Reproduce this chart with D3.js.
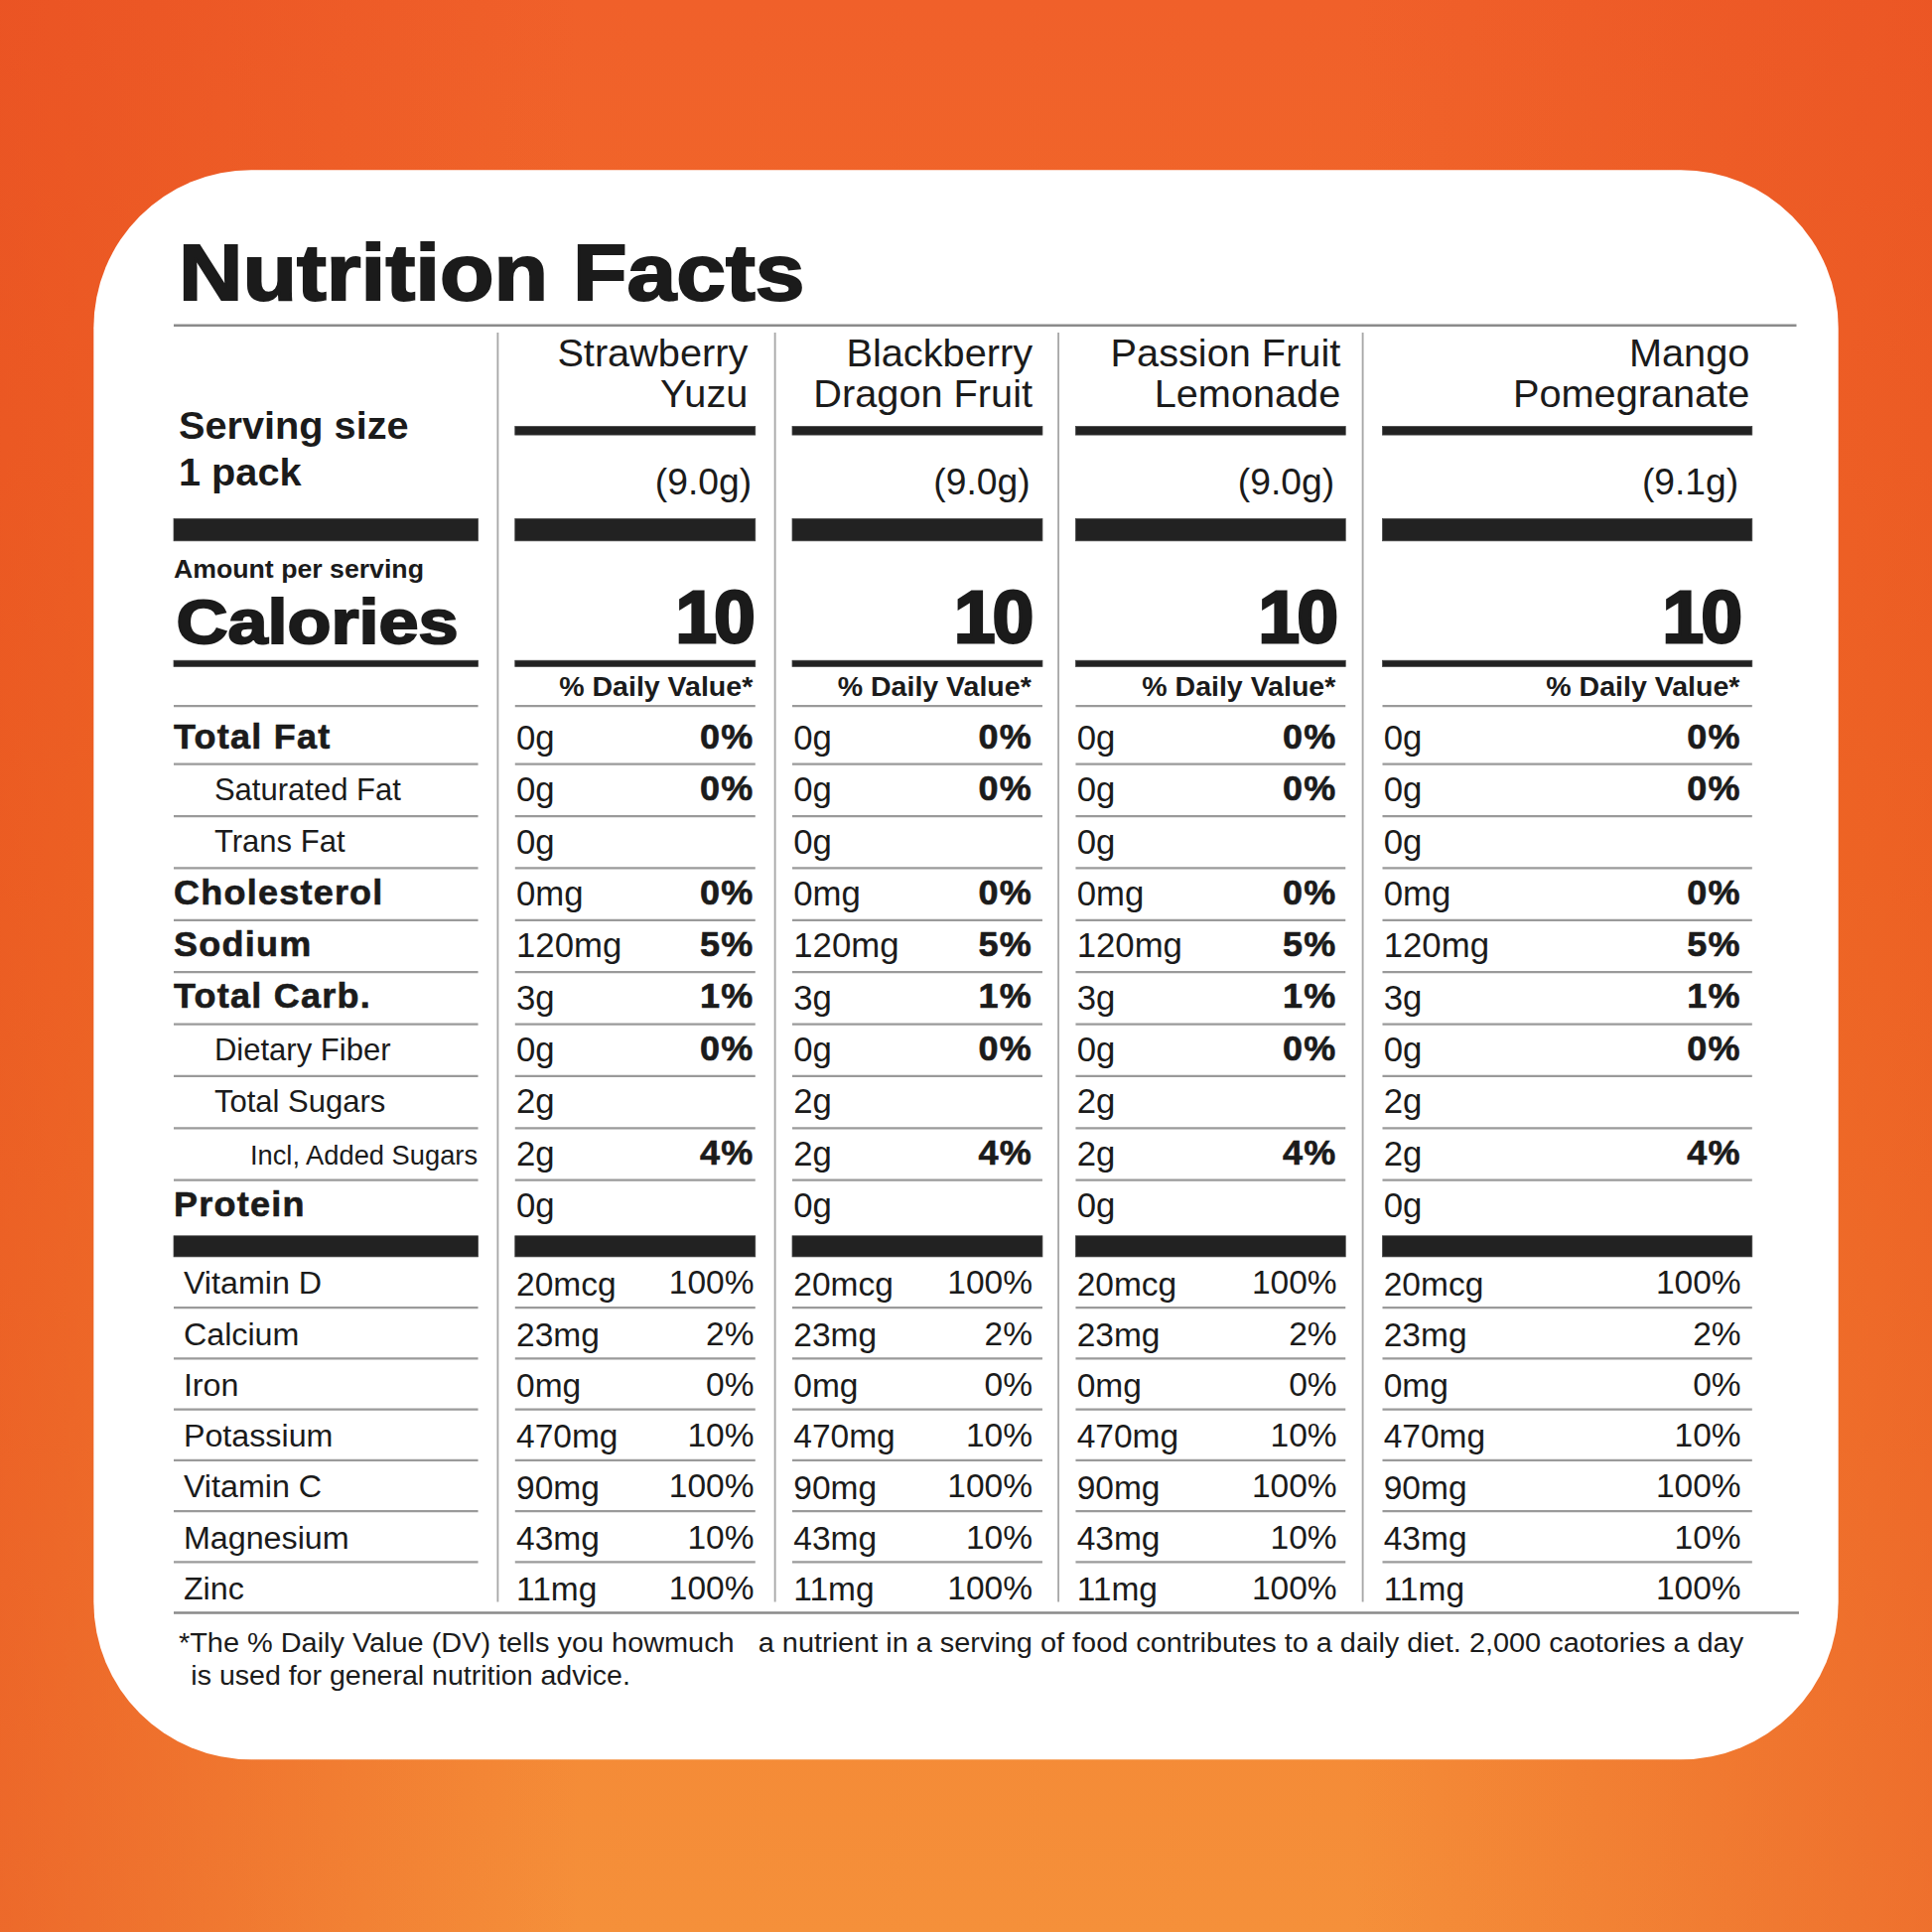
<!DOCTYPE html>
<html lang="en">
<head>
<meta charset="UTF-8">
<title>Nutrition Facts</title>
<script src="https://cdn.jsdelivr.net/npm/d3@7/dist/d3.min.js"></script>
<style>
  body { margin: 0; }
  svg { display: block; }
</style>
</head>
<body>
<svg id="main" width="1946" height="1946" viewBox="0 0 1568 1568"></svg>
<script>
    // data
    const flavors = [['Strawberry', 'Yuzu'], ['Blackberry', 'Dragon Fruit'], ['Passion Fruit', 'Lemonade'], ['Mango', 'Pomegranate']];
    const servingWeights = ['(9.0g)', '(9.0g)', '(9.0g)', '(9.1g)'];
    const calories = [10, 10, 10, 10];
    const nutrients = ['Total Fat', 'Saturated Fat', 'Trans Fat', 'Cholesterol', 'Sodium', 'Total Carb.',
        'Dietary Fiber', 'Total Sugars', 'Incl, Added Sugars', 'Protein'];
    const nutrientLevel = [0, 1, 1, 0, 0, 0, 1, 1, 2, 0];
    const nutrientAmounts = ['0g', '0g', '0g', '0mg', '120mg', '3g', '0g', '2g', '2g', '0g'];
    const nutrientDV = ['0%', '0%', '', '0%', '5%', '1%', '0%', '', '4%', ''];
    const vitamins = ['Vitamin D', 'Calcium', 'Iron', 'Potassium', 'Vitamin C', 'Magnesium', 'Zinc'];
    const vitaminAmounts = ['20mcg', '23mg', '0mg', '470mg', '90mg', '43mg', '11mg'];
    const vitaminDV = ['100%', '2%', '0%', '10%', '100%', '10%', '100%'];
    const footnote = ['*The % Daily Value (DV) tells you howmuch   a nutrient in a serving of food contributes to a daily diet. 2,000 caotories a day',
        'is used for general nutrition advice.'];

    // layout
    const ink = '#1b1b1b', rule = '#9a9a9a';
    const sans = "'Liberation Sans', Arial, Helvetica, sans-serif";
    const leftX = [141, 388];
    const colLeft = [418, 643, 873, 1122];
    const colRight = [613, 846, 1092, 1422];
    const textRight = [611, 837, 1084, 1412];
    const headRight = [607, 838, 1088, 1420];
    const sepX = [404, 629, 859, 1106];

    let svg = d3.select('#main');

    // background
    let defs = svg.append('defs');
    let bg = defs.append('linearGradient').attr('id', 'bg').attr('x1', 0).attr('y1', 0).attr('x2', 0).attr('y2', 1);
    bg.append('stop').attr('offset', '0%').attr('stop-color', '#f0602a');
    bg.append('stop').attr('offset', '45%').attr('stop-color', '#f27328');
    bg.append('stop').attr('offset', '100%').attr('stop-color', '#f5903a');
    let side = defs.append('linearGradient').attr('id', 'side').attr('x1', 0).attr('y1', 0).attr('x2', 1).attr('y2', 0);
    side.append('stop').attr('offset', '0%').attr('stop-color', '#e64a1e').attr('stop-opacity', 0.55);
    side.append('stop').attr('offset', '30%').attr('stop-color', '#e64a1e').attr('stop-opacity', 0);
    side.append('stop').attr('offset', '70%').attr('stop-color', '#e64a1e').attr('stop-opacity', 0);
    side.append('stop').attr('offset', '100%').attr('stop-color', '#e64a1e').attr('stop-opacity', 0.45);
    svg.append('rect').attr('width', 1568).attr('height', 1568).attr('fill', 'url(#bg)');
    svg.append('rect').attr('width', 1568).attr('height', 1568).attr('fill', 'url(#side)');

    // card
    svg.append('rect').attr('x', 76).attr('y', 138).attr('width', 1416).attr('height', 1290)
        .attr('rx', 128).attr('ry', 128).attr('fill', '#fff');

    let g = svg.append('g').attr('font-family', sans).attr('fill', ink);

    // title
    g.append('text').text('Nutrition Facts').attr('x', 145).attr('y', 243)
        .attr('font-size', 64).attr('font-weight', 'bold')
        .attr('stroke', ink).attr('stroke-width', 1.6)
        .attr('textLength', 508).attr('lengthAdjust', 'spacingAndGlyphs');
    g.append('line').attr('x1', 141).attr('x2', 1458).attr('y1', 264).attr('y2', 264)
        .attr('stroke', '#8a8a8a').attr('stroke-width', 2);

    // column separators
    g.selectAll('.sep').data(sepX).join('line').attr('class', 'sep')
        .attr('x1', d => d).attr('x2', d => d).attr('y1', 270).attr('y2', 1300)
        .attr('stroke', '#a8a8a8').attr('stroke-width', 1.5);

    const cols = d3.range(flavors.length);
    const hbar = (x0, x1, y, h) => g.append('rect').attr('x', x0).attr('y', y)
        .attr('width', x1 - x0).attr('height', h).attr('fill', '#222').attr('stroke', '#444').attr('stroke-width', 0.6);
    const hline = (x0, x1, y) => g.append('line').attr('x1', x0).attr('x2', x1).attr('y1', y).attr('y2', y)
        .attr('stroke', rule).attr('stroke-width', 1.8);

    // flavor headers
    cols.forEach(i => {
        flavors[i].forEach((t, k) => {
            g.append('text').text(t).attr('x', headRight[i]).attr('y', 297 + k * 33)
                .attr('text-anchor', 'end').attr('font-size', 32);
        });
        hbar(colLeft[i], colRight[i], 346, 7);
        g.append('text').text(servingWeights[i]).attr('x', textRight[i] - 1).attr('y', 401)
            .attr('text-anchor', 'end').attr('font-size', 30);
        hbar(colLeft[i], colRight[i], 421, 18);
        g.append('text').text(calories[i]).attr('x', textRight[i]).attr('y', 521)
            .attr('text-anchor', 'end').attr('font-size', 60).attr('font-weight', 'bold')
            .attr('stroke', ink).attr('stroke-width', 2.4).attr('letter-spacing', -2);
        hbar(colLeft[i], colRight[i], 536, 5);
        g.append('text').text('% Daily Value*').attr('x', textRight[i]).attr('y', 565)
            .attr('text-anchor', 'end').attr('font-size', 23).attr('font-weight', 'bold');
        hline(colLeft[i], colRight[i], 573);
    });

    // left header
    g.append('text').text('Serving size').attr('x', 145).attr('y', 356).attr('font-size', 32).attr('font-weight', 'bold');
    g.append('text').text('1 pack').attr('x', 145).attr('y', 394).attr('font-size', 32).attr('font-weight', 'bold');
    hbar(leftX[0], leftX[1], 421, 18);
    g.append('text').text('Amount per serving').attr('x', 141).attr('y', 469).attr('font-size', 21.5).attr('font-weight', 'bold');
    g.append('text').text('Calories').attr('x', 143).attr('y', 522).attr('font-size', 50).attr('font-weight', 'bold')
        .attr('stroke', ink).attr('stroke-width', 1.6)
        .attr('textLength', 229).attr('lengthAdjust', 'spacingAndGlyphs');
    hbar(leftX[0], leftX[1], 536, 5);
    hline(leftX[0], leftX[1], 573);

    // nutrient rows
    let yNut = d3.scaleBand().domain(d3.range(nutrients.length)).range([578, 1000]);
    const indent = [141, 174, 203];
    const labelSize = [29, 25, 22];

    g.selectAll('.nlab').data(nutrients).join('text').attr('class', 'nlab')
        .text(d => d)
        .attr('x', (d, i) => indent[nutrientLevel[i]])
        .attr('y', (d, i) => yNut(i) + yNut.bandwidth() - 13)
        .attr('font-size', (d, i) => labelSize[nutrientLevel[i]])
        .attr('font-weight', (d, i) => nutrientLevel[i] === 0 ? 'bold' : 'normal')
        .attr('letter-spacing', (d, i) => nutrientLevel[i] === 0 ? 1 : 0)
        .attr('stroke', (d, i) => nutrientLevel[i] === 0 ? ink : 'none')
        .attr('stroke-width', 0.5);

    d3.range(nutrients.length - 1).forEach(i => {
        let y = yNut(i) + yNut.bandwidth();
        hline(leftX[0], leftX[1], y);
        cols.forEach(c => hline(colLeft[c], colRight[c], y));
    });

    cols.forEach(c => {
        let cg = g.append('g');
        cg.selectAll('.amt').data(nutrientAmounts).join('text').attr('class', 'amt')
            .text(d => d).attr('x', colLeft[c] + 1)
            .attr('y', (d, i) => yNut(i) + yNut.bandwidth() - 12)
            .attr('font-size', 28);
        cg.selectAll('.dv').data(nutrientDV).join('text').attr('class', 'dv')
            .text(d => d).attr('x', textRight[c] + 1)
            .attr('y', (d, i) => yNut(i) + yNut.bandwidth() - 13)
            .attr('text-anchor', 'end').attr('font-size', 29).attr('font-weight', 'bold')
            .attr('letter-spacing', 1).attr('stroke', ink).attr('stroke-width', 0.5);
    });

    // thick bar after protein
    hbar(leftX[0], leftX[1], 1003, 17);
    cols.forEach(c => hbar(colLeft[c], colRight[c], 1003, 17));

    // vitamins & minerals
    let yVit = d3.scaleBand().domain(d3.range(vitamins.length)).range([1020, 1309]);
    g.selectAll('.vlab').data(vitamins).join('text').attr('class', 'vlab')
        .text(d => d).attr('x', 149)
        .attr('y', (d, i) => yVit(i) + yVit.bandwidth() - 11)
        .attr('font-size', 26);
    d3.range(vitamins.length - 1).forEach(i => {
        let y = yVit(i) + yVit.bandwidth();
        hline(leftX[0], leftX[1], y);
        cols.forEach(c => hline(colLeft[c], colRight[c], y));
    });
    cols.forEach(c => {
        let cg = g.append('g');
        cg.selectAll('.vamt').data(vitaminAmounts).join('text').attr('class', 'vamt')
            .text(d => d).attr('x', colLeft[c] + 1)
            .attr('y', (d, i) => yVit(i) + yVit.bandwidth() - 10)
            .attr('font-size', 27);
        cg.selectAll('.vdv').data(vitaminDV).join('text').attr('class', 'vdv')
            .text(d => d).attr('x', textRight[c] + 1)
            .attr('y', (d, i) => yVit(i) + yVit.bandwidth() - 11)
            .attr('text-anchor', 'end').attr('font-size', 27);
    });

    g.append('line').attr('x1', 141).attr('x2', 1460).attr('y1', 1309).attr('y2', 1309)
        .attr('stroke', '#8a8a8a').attr('stroke-width', 2);

    // footnote
    g.append('text').text(footnote[0]).attr('x', 145).attr('y', 1341).attr('font-size', 23)
        .attr('textLength', 1270).attr('lengthAdjust', 'spacingAndGlyphs').style('white-space', 'pre');
    g.append('text').text(footnote[1]).attr('x', 155).attr('y', 1367).attr('font-size', 23);
</script>
</body>
</html>
